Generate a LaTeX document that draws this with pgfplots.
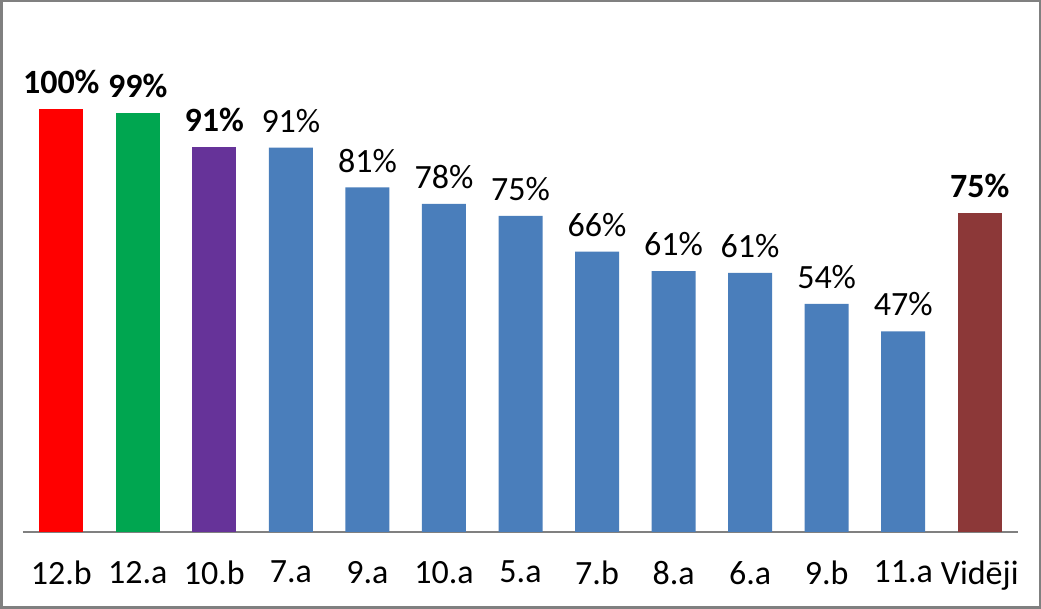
\documentclass[border=0pt]{standalone}
\usepackage{pgfplots}
\pgfplotsset{compat=1.18}
\usepackage{fontspec}
\setmainfont{Carlito}
\definecolor{barred}{RGB}{255,0,0}
\definecolor{bargreen}{RGB}{0,166,80}
\definecolor{barpurple}{RGB}{102,51,153}
\definecolor{barblue}{RGB}{74,126,187}
\definecolor{bardark}{RGB}{140,56,56}
\definecolor{framegray}{RGB}{128,128,128}
\newcommand{\lblfont}{\fontsize{17}{20}\selectfont}
\begin{document}
\begin{tikzpicture}
\draw[framegray, line width=1.25pt] (0.625pt,0.625pt) rectangle (519.875pt,303.875pt);
\begin{axis}[
    at={(11.5pt,38.5pt)}, anchor=south west,
    scale only axis, width=497.5pt, height=254pt,
    xmin=-0.5, xmax=12.5, ymin=0, ymax=120,
    ybar, bar width=22pt,
    axis x line*=bottom, axis y line=none, ytick=\empty,
    x axis line style={draw=framegray, line width=0.6pt},
    xtick={0,...,12},
    xticklabels={12.b,12.a,10.b,7.a,9.a,10.a,5.a,7.b,8.a,6.a,9.b,11.a,Vidēji},
    major tick length=0pt,
    xticklabel style={font=\lblfont, yshift=-11pt},
    point meta=explicit symbolic,
    nodes near coords={\pgfplotspointmeta\%},
    nodes near coords style={font=\lblfont, yshift=4pt},
    every axis plot/.append style={bar shift=0pt, draw=none},
]
\addplot[fill=barred, nodes near coords style={font=\lblfont\bfseries}]
    coordinates {(0,100) [100]};
\addplot[fill=bargreen, nodes near coords style={font=\lblfont\bfseries}]
    coordinates {(1,99) [99]};
\addplot[fill=barpurple, nodes near coords style={font=\lblfont\bfseries}]
    coordinates {(2,91) [91]};
\addplot[fill=barblue] coordinates {
    (3,90.8) [91]
    (4,81.4) [81]
    (5,77.5) [78]
    (6,74.7) [75]
    (7,66.2) [66]
    (8,61.6) [61]
    (9,61.2) [61]
    (10,53.9) [54]
    (11,47.4) [47]
};
\addplot[fill=bardark, nodes near coords style={font=\lblfont\bfseries}]
    coordinates {(12,75.4) [75]};
\end{axis}
\end{tikzpicture}
\end{document}
